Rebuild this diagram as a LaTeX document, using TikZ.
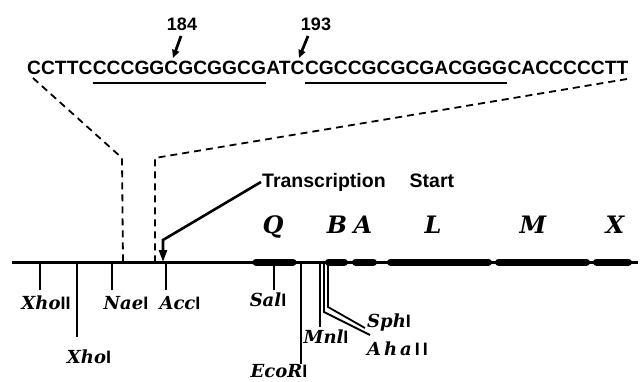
\documentclass[tikz,border=0pt]{standalone}
\usepackage{fontspec}
\setmainfont{Liberation Sans}
\newfontfamily\serifbi{DejaVu Serif}
\usetikzlibrary{arrows.meta}
\newcommand\sitelbl[2]{{\serifbi\bfseries\itshape #1}{\bfseries #2}}
\begin{document}
\begin{tikzpicture}[x=1pt,y=-1pt,
  seq/.style={font=\fontsize{19.25}{20}\selectfont\bfseries, inner sep=0pt, anchor=base west},
  num/.style={font=\fontsize{18}{18}\selectfont\bfseries, inner sep=0pt, anchor=base},
  gene/.style={font=\serifbi\fontsize{24}{24}\selectfont\bfseries\itshape, inner sep=0pt, anchor=base},
  site/.style={font=\fontsize{18}{18}\selectfont, inner sep=0pt, anchor=base},
  tick/.style={line width=2.2pt},
  dna/.style={line width=3pt},
  genebar/.style={line width=7pt, line cap=round},
  dashline/.style={line width=1.8pt, dash pattern=on 7pt off 5pt},
  uline/.style={line width=2.5pt},
  ptr/.style={line width=2.8pt, -{Triangle[length=8pt,width=7pt]}},
  tsarrow/.style={line width=2.6pt, -{Triangle[length=12pt,width=8pt]}}]
\useasboundingbox (0,0) rectangle (641,381);

% sequence
\node[seq] (s1) at (27,74) {CCTTC};
\node[seq] (s2) at (s1.base east) {CCCGGCGCGGCG};
\node[seq] (s3) at (s2.base east) {ATC};
\node[seq] (s4) at (s3.base east) {CGCCGCGCGACGGG};
\node[seq] (s5) at (s4.base east) {CACCCCCTT};
\draw[uline] ([yshift=-9pt]s2.base west) -- ([yshift=-9pt]s2.base east);
\draw[uline] ([yshift=-9pt]s4.base west) -- ([yshift=-9pt]s4.base east);

% position numbers
\node[num] (n184) at (182,30) {184};
\node[num] (n193) at (316,30) {193};
\coordinate (a184) at (181,36);
\coordinate (h184) at (173,58);
\coordinate (a193) at (308,36);
\coordinate (h193) at (299,58);
\draw[ptr] (a184) -- (h184);
\draw[ptr] (a193) -- (h193);

% main DNA line
\coordinate (L0) at (12,262);
\coordinate (L1) at (638,262);
\draw[dna] (L0) -- (L1);

% dashed expansion lines
\coordinate (dl0) at (33,78);
\coordinate (dl1) at (122,158);
\coordinate (dl2) at (123,262);
\coordinate (dr0) at (627,79);
\coordinate (dr1) at (155,158);
\coordinate (dr2) at (155,262);
\draw[dashline] (dl0) -- (dl1) -- (dl2);
\draw[dashline] (dr0) -- (dr1) -- (dr2);

% transcription start
\node[font=\fontsize{19.5}{20}\selectfont\bfseries, inner sep=1pt, anchor=base west] (ts) at (261,187) {Transcription\hspace{24pt}Start};
\coordinate (tc) at (163,240);
\coordinate (tt) at (163,262);
\draw[tsarrow] (ts.west) -- (tc) -- (tt);

% genes
\draw[genebar] (256,262) -- (293,262);
\draw[genebar] (328.5,262) -- (344.5,262);
\draw[genebar] (355.5,262) -- (373.5,262);
\draw[genebar] (390.5,262) -- (488.5,262);
\draw[genebar] (498.5,262) -- (586.5,262);
\draw[genebar] (596.5,262) -- (628.5,262);
\node[gene] (gQ) at (273,233) {Q};
\node[gene] (gB) at (337,233) {B};
\node[gene] (gA) at (363,233) {A};
\node[gene] (gL) at (433,233) {L};
\node[gene] (gM) at (533,233) {M};
\node[gene] (gX) at (615,233) {X};

% restriction sites
\coordinate (kXhoII) at (40,262);
\coordinate (kXhoI) at (77,262);
\coordinate (kNaeI) at (112,262);
\coordinate (kAccI) at (166,262);
\coordinate (kSalI) at (274,262);
\coordinate (kEcoRI) at (301,262);
\coordinate (kMnlI) at (320,262);
\coordinate (kAhaII) at (324,262);
\coordinate (kSphI) at (328,262);
\coordinate (eXhoII) at (40,290);
\coordinate (eXhoI) at (77,337);
\coordinate (eNaeI) at (112,290);
\coordinate (eAccI) at (166,290);
\coordinate (eSalI) at (274,290);
\coordinate (eEcoRI) at (301,364);
\coordinate (eMnlI) at (320,327);
\coordinate (bAhaII) at (324,312);
\coordinate (eAhaII) at (370,335);
\coordinate (bSphI) at (328,307);
\coordinate (eSphI) at (365,328);
\draw[tick] (kXhoII) -- (eXhoII);
\draw[tick] (kXhoI) -- (eXhoI);
\draw[tick] (kNaeI) -- (eNaeI);
\draw[tick] (kAccI) -- (eAccI);
\draw[tick] (kSalI) -- (eSalI);
\draw[tick] (kEcoRI) -- (eEcoRI);
\draw[tick] (kMnlI) -- (eMnlI);
\draw[tick,line width=1.8pt] (kAhaII) -- (bAhaII) -- (eAhaII);
\draw[tick,line width=1.8pt] (kSphI) -- (bSphI) -- (eSphI);

\node[site] (tXhoII) at (46,309.5) {\sitelbl{Xho}{II}};
\node[site] (tXhoI) at (89,363.5) {\sitelbl{Xho}{I}};
\node[site] (tNaeI) at (126,309.5) {\sitelbl{Nae}{I}};
\node[site] (tAccI) at (180,309.5) {\sitelbl{Acc}{I}};
\node[site] (tSalI) at (268,306.5) {\sitelbl{Sal}{I}};
\node[site] (tEcoRI) at (279,377) {\sitelbl{EcoR}{I}};
\node[site] (tMnlI) at (326,343) {\sitelbl{Mnl}{I}};
\node[site, anchor=base west] (tSphI) at (367,327) {\sitelbl{Sph}{I}};
\node[site, anchor=base west] (tAhaII) at (367,355) {\sitelbl{A\,h\,a\,}{I\,I}};
\end{tikzpicture}
\end{document}
